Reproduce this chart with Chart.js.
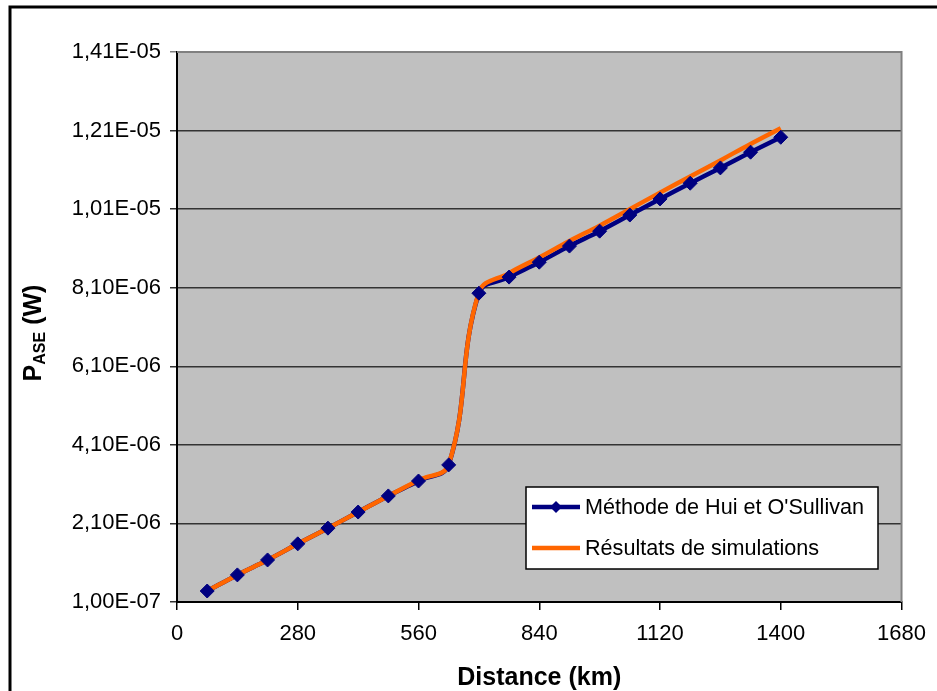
<!DOCTYPE html>
<html>
<head>
<meta charset="utf-8">
<script src="https://cdn.jsdelivr.net/npm/chart.js@4/dist/chart.umd.min.js"></script>
<style>
  html, body { margin: 0; padding: 0; background: #fff; }
  #wrap { width: 937px; height: 691px; position: relative; }
</style>
</head>
<body>
<div id="wrap"><canvas id="PaseChart"></canvas></div>
<script>
// distance (km)
const distances = [70, 140, 210, 280, 350, 420, 490, 560, 630, 700, 770, 840, 910, 980, 1050, 1120, 1190, 1260, 1330, 1400];

// Méthode de Hui et O'Sullivan (W)
const huiValues = [3.8e-7, 7.9e-7, 1.17e-6, 1.58e-6, 1.98e-6, 2.39e-6, 2.80e-6, 3.18e-6, 3.59e-6, 7.96e-6,
  8.37e-6, 8.75e-6, 9.16e-6, 9.54e-6, 9.95e-6, 1.036e-5, 1.076e-5, 1.115e-5, 1.155e-5, 1.193e-5];

// Résultats de simulations (W)
const simValues = [3.8e-7, 7.9e-7, 1.17e-6, 1.58e-6, 1.98e-6, 2.39e-6, 2.80e-6, 3.20e-6, 3.60e-6, 7.98e-6,
  8.47e-6, 8.87e-6, 9.29e-6, 9.68e-6, 1.010e-5, 1.052e-5, 1.093e-5, 1.134e-5, 1.176e-5, 1.216e-5];

const yTicks = [1.0e-7, 2.1e-6, 4.1e-6, 6.1e-6, 8.1e-6, 1.01e-5, 1.21e-5, 1.41e-5];
const xTicks = [0, 280, 560, 840, 1120, 1400, 1680];

const seriesNames = ["Méthode de Hui et O'Sullivan", 'Résultats de simulations'];
const seriesColors = ['#000080', '#FF6600'];

const FONT = '"Liberation Sans", Arial, sans-serif';

const toPoints = (xs, ys) => xs.map((x, i) => ({ x: x, y: ys[i] }));

const sciLabel = (v) => {
  const parts = Number(v).toExponential(2).split('e');
  const ex = parseInt(parts[1], 10);
  return parts[0].replace('.', ',') + 'E' + (ex < 0 ? '-' : '+') + String(Math.abs(ex)).padStart(2, '0');
};

const excelLook = {
  id: 'excelLook',
  beforeDraw(chart) {
    const ctx = chart.ctx;
    const a = chart.chartArea;
    ctx.save();
    ctx.fillStyle = '#fff';
    ctx.fillRect(0, 0, chart.width, chart.height);
    ctx.fillStyle = '#C0C0C0';
    ctx.fillRect(a.left, a.top, a.right - a.left, a.bottom - a.top);
    // outer frame
    ctx.strokeStyle = '#000';
    ctx.lineWidth = 3;
    ctx.beginPath();
    ctx.moveTo(10, 691);
    ctx.lineTo(10, 7);
    ctx.lineTo(940, 7);
    ctx.stroke();
    ctx.restore();
  },
  beforeDatasetsDraw(chart) {
    const ctx = chart.ctx;
    const a = chart.chartArea;
    ctx.save();
    ctx.strokeStyle = '#808080';
    ctx.lineWidth = 2;
    ctx.beginPath();
    ctx.moveTo(a.left, a.top);
    ctx.lineTo(a.right, a.top);
    ctx.lineTo(a.right, a.bottom);
    ctx.stroke();
    ctx.restore();
  },
  afterDraw(chart) {
    const ctx = chart.ctx;
    const a = chart.chartArea;
    ctx.save();

    // x title
    ctx.fillStyle = '#000';
    ctx.font = 'bold 25px ' + FONT;
    ctx.textAlign = 'center';
    ctx.textBaseline = 'alphabetic';
    ctx.fillText('Distance (km)', (a.left + a.right) / 2, 685);

    // y title with subscript
    ctx.translate(41, 333);
    ctx.rotate(-Math.PI / 2);
    const big = 'bold 25px ' + FONT;
    const small = 'bold 16px ' + FONT;
    ctx.font = big;
    const wP = ctx.measureText('P').width;
    const wW = ctx.measureText(' (W)').width;
    ctx.font = small;
    const wS = ctx.measureText('ASE').width;
    let x0 = -(wP + wS + wW) / 2;
    ctx.textAlign = 'left';
    ctx.font = big;
    ctx.fillText('P', x0, 0);
    ctx.font = small;
    ctx.fillText('ASE', x0 + wP, 4);
    ctx.font = big;
    ctx.fillText(' (W)', x0 + wP + wS, 0);
    ctx.restore();

    // legend box
    ctx.save();
    ctx.fillStyle = '#fff';
    ctx.fillRect(526, 487, 352, 82);
    ctx.strokeStyle = '#000';
    ctx.lineWidth = 1.5;
    ctx.strokeRect(526, 487, 352, 82);
    const rows = [507, 548];
    ctx.font = '21.6px ' + FONT;
    ctx.textBaseline = 'middle';
    ctx.textAlign = 'left';
    rows.forEach((y, i) => {
      ctx.strokeStyle = seriesColors[i];
      ctx.lineWidth = 4.5;
      ctx.beginPath();
      ctx.moveTo(532, y);
      ctx.lineTo(580, y);
      ctx.stroke();
      if (i === 0) {
        ctx.fillStyle = seriesColors[0];
        ctx.beginPath();
        ctx.moveTo(556, y - 6);
        ctx.lineTo(562, y);
        ctx.lineTo(556, y + 6);
        ctx.lineTo(550, y);
        ctx.closePath();
        ctx.fill();
      }
      ctx.fillStyle = '#000';
      ctx.fillText(seriesNames[i], 585, y + 1);
    });
    ctx.restore();
  }
};

const PaseTarget = document.getElementById('PaseChart');

const PaseChart = new Chart(PaseTarget, {
  type: 'line',
  data: {
    datasets: [
      {
        label: seriesNames[0],
        data: toPoints(distances, huiValues),
        borderColor: seriesColors[0],
        borderWidth: 4.5,
        pointRadius: 0,
        tension: 0.4,
        order: 3
      },
      {
        label: seriesNames[1],
        data: toPoints(distances, simValues),
        borderColor: seriesColors[1],
        borderWidth: 4.5,
        pointRadius: 0,
        tension: 0.4,
        order: 2
      },
      {
        // markers of the first series, kept on top
        label: seriesNames[0] + ' (points)',
        data: toPoints(distances, huiValues),
        showLine: false,
        pointStyle: 'rectRot',
        pointRadius: 7,
        pointBackgroundColor: seriesColors[0],
        pointBorderColor: seriesColors[0],
        pointBorderWidth: 1,
        order: 1
      }
    ]
  },
  options: {
    responsive: true,
    maintainAspectRatio: false,
    animation: false,
    layout: { padding: { left: 0, top: 52, right: 34, bottom: 0 } },
    plugins: {
      legend: { display: false },
      tooltip: { enabled: false }
    },
    scales: {
      x: {
        type: 'linear',
        min: 0,
        max: 1680,
        afterBuildTicks: (scale) => { scale.ticks = xTicks.map(v => ({ value: v })); },
        afterFit: (scale) => { scale.height = 89; },
        border: { color: '#000', width: 2 },
        grid: { drawOnChartArea: false, color: '#000', lineWidth: 1.5, tickLength: 8 },
        ticks: { color: '#000', font: { family: FONT, size: 22 }, padding: 11, maxRotation: 0, callback: (v) => String(v) }
      },
      y: {
        type: 'linear',
        min: 1.0e-7,
        max: 1.41e-5,
        afterBuildTicks: (scale) => { scale.ticks = yTicks.map(v => ({ value: v })); },
        afterFit: (scale) => { scale.width = 177; },
        border: { color: '#000', width: 2 },
        grid: {
          color: (c) => (c.index === yTicks.length - 1 ? '#808080' : '#333'),
          lineWidth: 1.5,
          tickLength: 7
        },
        ticks: { color: '#000', font: { family: FONT, size: 22 }, padding: 9, callback: sciLabel }
      }
    }
  },
  plugins: [excelLook]
});
</script>
</body>
</html>
